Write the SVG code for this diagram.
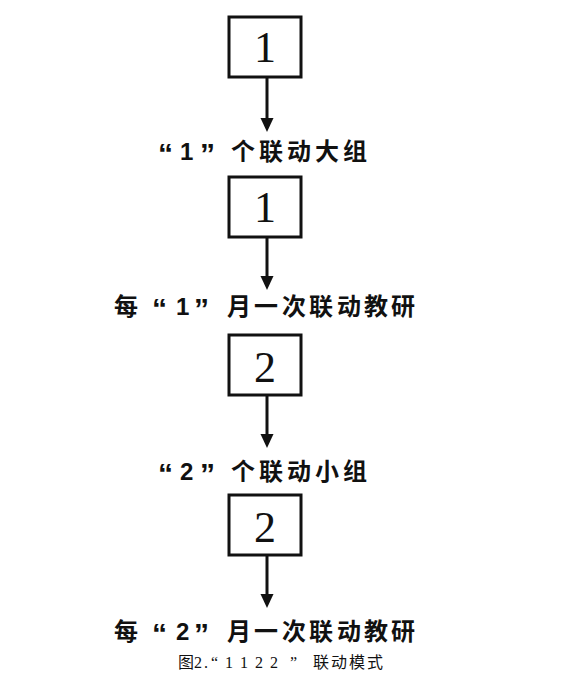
<svg xmlns="http://www.w3.org/2000/svg" width="570" height="673" viewBox="0 0 570 673">
<defs>
<style>
.box{fill:#fff;stroke:#111;stroke-width:3}
.num{font-family:"Liberation Serif","Times New Roman",serif;font-size:44px;fill:#111;text-anchor:middle}
.lbl{font-family:"Liberation Sans","Noto Sans CJK SC",sans-serif;font-size:24px;font-weight:bold;fill:#111}
.q{font-size:30px;font-family:"Liberation Sans",sans-serif}
.cap{font-family:"Liberation Serif","Noto Sans CJK SC",serif;font-size:16px;fill:#111}
.conn{stroke:#111;stroke-width:3;fill:none}
</style>
</defs>
<rect width="570" height="673" fill="#fff"/>
<g id="connectors">
<line class="conn" x1="267" y1="78" x2="267" y2="119"/><path d="M260.5,118 L273.5,118 L267,132 Z" fill="#111"/>
<line class="conn" x1="267" y1="238" x2="267" y2="277"/><path d="M260.5,276 L273.5,276 L267,290 Z" fill="#111"/>
<line class="conn" x1="267" y1="396" x2="267" y2="435"/><path d="M260.5,434 L273.5,434 L267,448 Z" fill="#111"/>
<line class="conn" x1="267" y1="556" x2="267" y2="595"/><path d="M260.5,594 L273.5,594 L267,608 Z" fill="#111"/>
</g>
<g id="node1">
<rect class="box" x="229" y="17" width="72" height="60"/>
<text class="num" x="265" y="62">1</text>
</g>
<g id="label1">
<text class="lbl" y="160"><tspan class="q" x="158" dy="4">“</tspan><tspan x="180" dy="-4">1</tspan><tspan class="q" x="200" dy="4">”</tspan><tspan x="231" dy="-4">个</tspan><tspan x="259">联</tspan><tspan x="287">动</tspan><tspan x="315">大</tspan><tspan x="343">组</tspan></text>
</g>
<g id="node2">
<rect class="box" x="229" y="177" width="72" height="60"/>
<text class="num" x="265" y="222">1</text>
</g>
<g id="label2">
<text class="lbl" y="315"><tspan x="114">每</tspan><tspan class="q" x="152" dy="4">“</tspan><tspan x="176" dy="-4">1</tspan><tspan class="q" x="194" dy="4">”</tspan><tspan x="227" dy="-4">月</tspan><tspan x="254">一</tspan><tspan x="282">次</tspan><tspan x="309">联</tspan><tspan x="337">动</tspan><tspan x="364">教</tspan><tspan x="391">研</tspan></text>
</g>
<g id="node3">
<rect class="box" x="229" y="335" width="72" height="60"/>
<text class="num" x="265" y="382">2</text>
</g>
<g id="label3">
<text class="lbl" y="480"><tspan class="q" x="158" dy="4">“</tspan><tspan x="180" dy="-4">2</tspan><tspan class="q" x="200" dy="4">”</tspan><tspan x="231" dy="-4">个</tspan><tspan x="259">联</tspan><tspan x="287">动</tspan><tspan x="315">小</tspan><tspan x="343">组</tspan></text>
</g>
<g id="node4">
<rect class="box" x="229" y="495" width="72" height="60"/>
<text class="num" x="265" y="542">2</text>
</g>
<g id="label4">
<text class="lbl" y="640"><tspan x="114">每</tspan><tspan class="q" x="152" dy="4">“</tspan><tspan x="176" dy="-4">2</tspan><tspan class="q" x="194" dy="4">”</tspan><tspan x="227" dy="-4">月</tspan><tspan x="254">一</tspan><tspan x="282">次</tspan><tspan x="309">联</tspan><tspan x="337">动</tspan><tspan x="364">教</tspan><tspan x="391">研</tspan></text>
</g>
<g id="caption">
<text class="cap" y="668"><tspan x="178">图</tspan><tspan x="194">2</tspan><tspan x="204">.</tspan><tspan x="211">“</tspan><tspan x="225">1</tspan><tspan x="240">1</tspan><tspan x="255">2</tspan><tspan x="270">2</tspan><tspan x="290">”</tspan><tspan x="313">联</tspan><tspan x="331">动</tspan><tspan x="349">模</tspan><tspan x="367">式</tspan></text>
</g>
</svg>
